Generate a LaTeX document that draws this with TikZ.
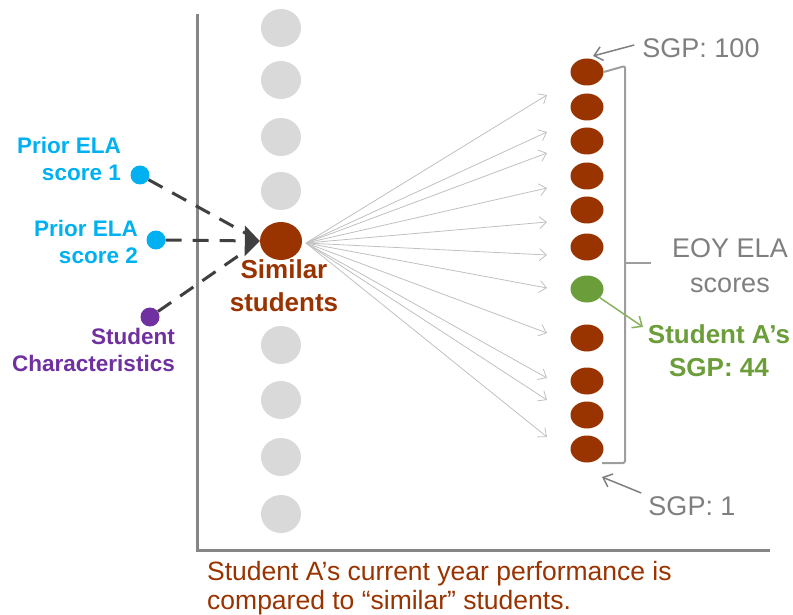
\documentclass[tikz,border=0pt]{standalone}
\usepackage{fontspec}
\setmainfont{Liberation Sans}
\usetikzlibrary{arrows.meta,shapes.geometric}
\definecolor{priorblue}{HTML}{00B0F0}
\definecolor{charpurple}{HTML}{7030A0}
\definecolor{sgpbrown}{HTML}{993300}
\definecolor{sgpgreen}{HTML}{6B9E3A}
\definecolor{poolgray}{HTML}{D9D9D9}
\definecolor{axisgray}{HTML}{868686}
\definecolor{feedgray}{HTML}{404040}
\definecolor{fangray}{HTML}{C0C0C0}
\definecolor{labelgray}{HTML}{7F7F7F}
\begin{document}
\begin{tikzpicture}[x=1pt,y=-1pt,
    pool/.style={ellipse,fill=poolgray,minimum width=40pt,minimum height=38pt,inner sep=0pt},
    score/.style={ellipse,fill=#1,minimum width=33pt,minimum height=27pt,inner sep=0pt},
    inputdot/.style={circle,fill=#1,minimum size=19pt,inner sep=0pt},
    feed/.style={draw=feedgray,line width=3pt,dash pattern=on 16pt off 11pt},
    fan/.style={draw=fangray,line width=0.8pt,-{Straight Barb[length=7pt,width=12pt]}},
    pointer/.style={draw=#1,line width=1.5pt,-{Straight Barb[length=8pt,width=14pt]}},
    lbl/.style={text=#1,font=\bfseries\fontsize{22.5}{27}\selectfont,inner sep=0pt},
    blbl/.style={text=#1,font=\bfseries\fontsize{26}{33}\selectfont,inner sep=0pt},
    glbl/.style={text=labelgray,font=\fontsize{27}{35}\selectfont,inner sep=0pt}]
    \useasboundingbox (0,0) rectangle (793,615);

    % axes
    \draw[axisgray,line width=3pt] (197,14) -- (197,550) -- (770,550);

    % pool of students
    \foreach \y [count=\i] in {28,80,137,191,345,400,457,514}
        \node[pool] (pool\i) at (281,\y) {};
    \node[ellipse,fill=sgpbrown,minimum width=42pt,minimum height=38pt,inner sep=0pt] (sim) at (281,241) {};
    \node[blbl=sgpbrown,align=center] (simtxt) at (284,286) {Similar\\students};

    % inputs
    \node[inputdot=priorblue] (p1) at (140,175) {};
    \node[inputdot=priorblue] (p2) at (156,240) {};
    \node[inputdot=charpurple] (p3) at (150,317) {};
    \node[lbl=priorblue,align=right,anchor=east] (p1txt) at (121,159) {Prior ELA\\score 1};
    \node[lbl=priorblue,align=right,anchor=east] (p2txt) at (138,242) {Prior ELA\\score 2};
    \node[lbl=charpurple,align=right,anchor=east] (p3txt) at (175,350) {Student\\Characteristics};
    \draw[feed,shorten >=10pt] (p1) -- (sim.west);
    \draw[feed,-{Triangle[length=15pt,width=30pt]}] (p2) -- (sim.west);
    \draw[feed,shorten >=10pt] (p3) -- (sim.west);

    % fan of arrows
    \coordinate (hub) at (306,243);
    \foreach \y [count=\i] in {95,132,153,188,222,255,288,333,378,400,437} {
        \coordinate (end\i) at (547,\y);
        \draw[fan] (hub) -- (end\i);
    }

    % EOY scores
    \foreach \y [count=\i] in {72,107,141,176,210,247,338,381,415,449}
        \node[score=sgpbrown] (s\i) at (587,\y) {};
    \node[score=sgpgreen] (sa) at (587,289) {};

    % bracket
    \draw[draw=axisgray!80,line width=2pt,rounded corners=2pt]
        (s1.east) -- (625,66) -- (625,463) -- (602,463);
    \draw[draw=axisgray!80,line width=2pt] (625,263) -- (651,263);

    \node[glbl,align=center] (eoy) at (730,266) {EOY ELA\\scores};
    \node[glbl] (top) at (701,48) {SGP: 100};
    \node[glbl] (bot) at (692,506) {SGP: 1};
    \draw[pointer=labelgray] (top.west) ++(-8,-3) coordinate (topa) -- (593,56);
    \draw[pointer=labelgray] (bot.west) ++(-7,-13) coordinate (bota) -- (602,477);

    \node[blbl=sgpgreen,align=center] (satxt) at (719,351) {Student A's\\SGP: 44};
    \draw[pointer=sgpgreen!80] (sa) -- (643,327);

    \node[text=sgpbrown,font=\fontsize{26.5}{29}\selectfont,align=left,anchor=west,inner sep=0pt]
        (note) at (207,588) {Student A's current year performance is\\compared to ``similar'' students.};
\end{tikzpicture}
\end{document}
